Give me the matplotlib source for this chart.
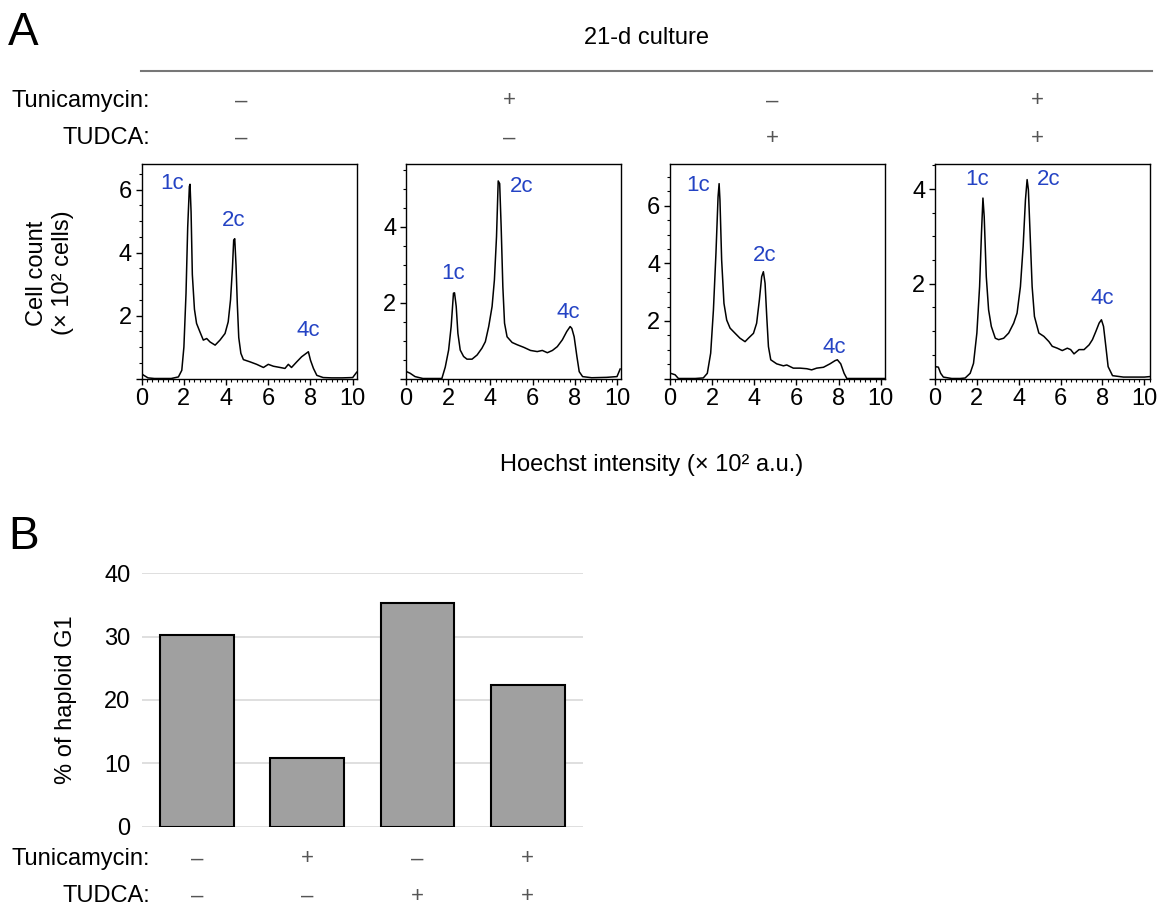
import matplotlib
matplotlib.use('Agg')
import matplotlib.pyplot as plt
from matplotlib.ticker import MultipleLocator, FixedLocator
from matplotlib.lines import Line2D
from matplotlib.transforms import blended_transform_factory

plt.rcParams['font.family'] = ['Liberation Sans', 'DejaVu Sans']

# Hoechst histograms (x: intensity x10^2 a.u., y: cells x10^2)
x1 = [0.0, 0.1, 0.3, 0.6, 1.0, 1.4, 1.74, 1.9, 2.0, 2.1, 2.18, 2.26, 2.29, 2.34, 2.4, 2.5, 2.6, 2.76, 2.92,
      3.08, 3.24, 3.48, 3.71, 3.95, 4.1, 4.21, 4.3, 4.36, 4.41, 4.47, 4.53, 4.6, 4.7, 4.82, 5.13, 5.45,
      5.77, 6.0, 6.24, 6.56, 6.79, 6.95, 7.1, 7.35, 7.58, 7.82, 7.9, 8.0, 8.14, 8.3, 8.6, 9.0, 9.5, 10.0, 10.19]
y1 = [0.15, 0.1, 0.02, 0.0, 0.0, 0.0, 0.05, 0.26, 1.0, 2.7, 4.8, 6.1, 6.17, 5.3, 3.3, 2.2, 1.75, 1.48, 1.22,
      1.27, 1.16, 1.06, 1.22, 1.43, 1.8, 2.5, 3.5, 4.4, 4.44, 3.6, 2.4, 1.3, 0.8, 0.6, 0.53, 0.45,
      0.35, 0.45, 0.39, 0.35, 0.32, 0.45, 0.35, 0.53, 0.69, 0.81, 0.85, 0.58, 0.32, 0.1, 0.03, 0.02, 0.02, 0.03, 0.2]

x2 = [0.0, 0.03, 0.19, 0.43, 0.8, 1.2, 1.7, 1.86, 2.02, 2.14, 2.25, 2.3, 2.38, 2.46, 2.57, 2.73, 2.89,
      3.13, 3.37, 3.6, 3.76, 3.92, 4.08, 4.19, 4.29, 4.37, 4.44, 4.51, 4.59, 4.67, 4.79, 5.03, 5.27,
      5.59, 5.9, 6.22, 6.46, 6.7, 6.94, 7.17, 7.41, 7.62, 7.78, 7.86, 7.97, 8.1, 8.21, 8.37, 8.8, 9.5,
      10.0, 10.15]
y2 = [0.15, 0.18, 0.14, 0.05, 0.0, 0.0, 0.0, 0.3, 0.75, 1.37, 2.25, 2.26, 1.9, 1.19, 0.75, 0.58, 0.51,
      0.51, 0.62, 0.8, 0.97, 1.37, 1.9, 2.6, 3.74, 5.21, 5.14, 4.0, 2.42, 1.46, 1.1, 0.95, 0.89,
      0.82, 0.74, 0.71, 0.74, 0.68, 0.74, 0.84, 1.02, 1.24, 1.37, 1.32, 1.1, 0.58, 0.18, 0.05, 0.02, 0.03,
      0.05, 0.25]

x3 = [0.0, 0.03, 0.24, 0.4, 0.8, 1.2, 1.58, 1.77, 1.93, 2.06, 2.18, 2.28, 2.33, 2.37, 2.45, 2.56, 2.69,
      2.85, 3.09, 3.32, 3.56, 3.72, 3.96, 4.11, 4.24, 4.35, 4.43, 4.51, 4.59, 4.67, 4.78, 5.06, 5.38,
      5.54, 5.85, 6.17, 6.49, 6.72, 6.96, 7.28, 7.59, 7.83, 7.94, 8.1, 8.26, 8.39, 9.0, 9.5, 10.0, 10.2]
y3 = [0.15, 0.18, 0.13, 0.0, 0.0, 0.0, 0.02, 0.18, 0.88, 2.38, 4.35, 6.31, 6.77, 6.2, 4.12, 2.61, 2.03,
      1.75, 1.57, 1.4, 1.28, 1.4, 1.57, 1.92, 2.73, 3.54, 3.71, 3.31, 2.15, 1.11, 0.65, 0.51, 0.44,
      0.47, 0.36, 0.36, 0.34, 0.3, 0.36, 0.39, 0.51, 0.62, 0.65, 0.51, 0.18, 0.0, 0.0, 0.0, 0.0, 0.0]

x4 = [0.0, 0.03, 0.16, 0.27, 0.4, 0.8, 1.2, 1.44, 1.68, 1.84, 2.0, 2.13, 2.22, 2.29, 2.35, 2.45, 2.56,
      2.69, 2.88, 3.04, 3.28, 3.52, 3.76, 3.92, 4.08, 4.21, 4.32, 4.4, 4.46, 4.56, 4.64, 4.75, 4.96,
      5.2, 5.44, 5.6, 5.84, 6.08, 6.32, 6.48, 6.64, 6.88, 7.12, 7.36, 7.52, 7.68, 7.84, 7.95, 8.05,
      8.16, 8.27, 8.48, 9.0, 9.5, 10.0, 10.25]
y4 = [0.2, 0.25, 0.24, 0.11, 0.03, 0.0, 0.0, 0.01, 0.11, 0.32, 0.96, 1.94, 3.07, 3.81, 3.42, 2.15, 1.45,
      1.1, 0.85, 0.82, 0.85, 0.96, 1.17, 1.38, 1.94, 2.79, 3.77, 4.2, 3.99, 2.86, 1.94, 1.31, 0.96,
      0.89, 0.78, 0.68, 0.64, 0.59, 0.64, 0.61, 0.52, 0.61, 0.61, 0.71, 0.82, 0.99, 1.17, 1.24, 1.1,
      0.68, 0.25, 0.06, 0.03, 0.03, 0.03, 0.04]

traces = [(x1, y1), (x2, y2), (x3, y3), (x4, y4)]
y_tops = [6.83, 5.67, 7.47, 4.54]
x_rights = [10.19, 10.19, 10.2, 10.27]
y_major = [[0, 2, 4, 6], [0, 2, 4], [0, 2, 4, 6], [0, 2, 4]]

# peak label positions (data coords)
peak_names = ['1c', '2c', '4c']
peak_xy = [[(1.42, 6.2), (4.34, 5.03), (7.9, 1.53)],
           [(2.22, 2.77), (5.48, 5.07), (7.68, 1.74)],
           [(1.34, 6.72), (4.51, 4.29), (7.78, 1.08)],
           [(2.03, 4.21), (5.44, 4.21), (8.0, 1.68)]]

tunicamycin = ['–', '+', '–', '+']
tudca = ['–', '–', '+', '+']

# panel B
haploid_g1 = [30.2, 10.9, 35.3, 22.3]

W, H = 1161, 909
fig = plt.figure(figsize=(W / 100, H / 100), dpi=100)


def fx(px):
    return px / W


def fy(py):
    return 1 - py / H


blue = '#2443c4'
sign_col = '#555555'
fs = 17

lefts = [141.7, 406, 670, 935]
for i, (xs, ys) in enumerate(traces):
    ax = fig.add_axes([fx(lefts[i]), fy(378.5), fx(215), 215 / H])
    ax.plot(xs, ys, color='black', lw=1.1)
    ax.set_xlim(0, x_rights[i])
    ax.set_ylim(0, y_tops[i])
    ax.xaxis.set_major_locator(FixedLocator([0, 2, 4, 6, 8, 10]))
    ax.xaxis.set_minor_locator(MultipleLocator(0.25))
    ax.yaxis.set_major_locator(FixedLocator(y_major[i]))
    ax.set_yticklabels([''] + [str(v) for v in y_major[i][1:]])
    ax.yaxis.set_minor_locator(MultipleLocator(0.5))
    ax.tick_params(which='major', length=4, width=1, labelsize=fs, pad=3)
    ax.tick_params(which='minor', length=2, width=0.8)
    for sp in ax.spines.values():
        sp.set_linewidth(1)
    for name, (px, py) in zip(peak_names, peak_xy[i]):
        ax.text(px, py, name, color=blue, fontsize=16, ha='center', va='center')

fig.text(fx(50), fy(273), 'Cell count\n(× 10² cells)', fontsize=fs, rotation=90,
         ha='center', va='center', linespacing=1.25, multialignment='center')

# header of panel A
fig.text(fx(8), fy(33), 'A', fontsize=33, va='center', ha='left')
fig.text(fx(646), fy(38), '21-d culture', fontsize=fs, ha='center', va='center')
fig.add_artist(Line2D([fx(141), fx(1152)], [fy(71), fy(71)], color='#777777', lw=1.5))
fig.text(fx(150), fy(101), 'Tunicamycin:', fontsize=fs, ha='right', va='center')
fig.text(fx(150), fy(138), 'TUDCA:', fontsize=fs, ha='right', va='center')
sign_x = [241, 509, 772, 1037]
for sx, t, d in zip(sign_x, tunicamycin, tudca):
    fig.text(fx(sx), fy(101), t, fontsize=16, ha='center', va='center', color=sign_col)
    fig.text(fx(sx), fy(138), d, fontsize=16, ha='center', va='center', color=sign_col)

fig.text(fx(652), fy(465), 'Hoechst intensity (× 10² a.u.)', fontsize=fs, ha='center', va='center')

# panel B
fig.text(fx(8), fy(537), 'B', fontsize=33, va='center', ha='left')
axb = fig.add_axes([fx(141.7), fy(826.7), fx(441.3), 253.4 / H])
pos = list(range(len(haploid_g1)))
axb.bar(pos, haploid_g1, width=0.67, color='#a0a0a0', edgecolor='black', linewidth=1.5, zorder=3)
axb.set_xlim(-0.5, 3.5)
axb.set_ylim(0, 40)
axb.set_yticks([0, 10, 20, 30, 40])
axb.set_xticks([])
axb.yaxis.grid(True, color='#dcdcdc', lw=1.3)
axb.set_axisbelow(True)
for sp in axb.spines.values():
    sp.set_visible(False)
axb.tick_params(axis='y', length=0, labelsize=fs, pad=8)
fig.text(fx(66), fy(700), '% of haploid G1', fontsize=fs, rotation=90, ha='center', va='center')

tr = blended_transform_factory(axb.transData, fig.transFigure)
fig.text(fx(150), fy(859), 'Tunicamycin:', fontsize=fs, ha='right', va='center')
fig.text(fx(150), fy(896), 'TUDCA:', fontsize=fs, ha='right', va='center')
for p, t, d in zip(pos, tunicamycin, tudca):
    axb.text(p, fy(859), t, transform=tr, fontsize=16, ha='center', va='center', color=sign_col)
    axb.text(p, fy(896), d, transform=tr, fontsize=16, ha='center', va='center', color=sign_col)

fig.savefig('out.png', dpi=100)
